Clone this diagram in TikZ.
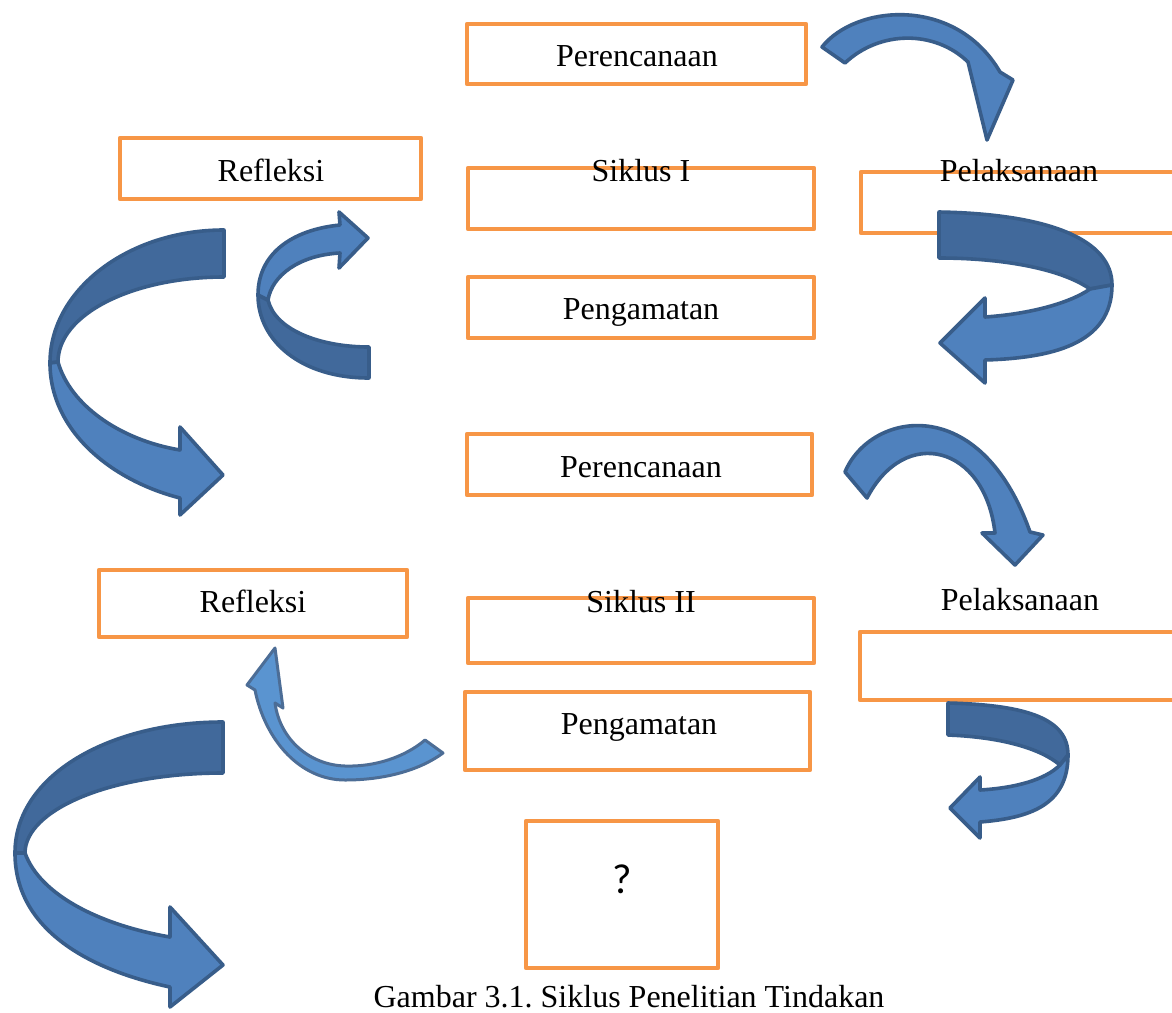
\documentclass[tikz,border=0pt]{standalone}
\usepackage{fontspec}
\setmainfont{Liberation Serif}
\newfontfamily\qfont{Carlito}
\frenchspacing
\definecolor{boxor}{HTML}{F79646}
\definecolor{arfront}{HTML}{4F81BD}
\definecolor{arback}{HTML}{41699B}
\definecolor{arline}{HTML}{385D8A}
\definecolor{arlight}{HTML}{5A94D0}
\tikzset{
  box/.style={draw=boxor, line width=4.5pt, line join=round},
  lbl/.style={anchor=base, inner sep=0pt, font=\fontsize{32}{38}\selectfont},
  front/.style={fill=arfront, draw=arline, line width=3.6pt, line join=round},
  back/.style={fill=arback, draw=arline, line width=3.6pt, line join=round},
  lfront/.style={fill=arlight, draw=arline!90, line width=3pt, line join=round}
}
\begin{document}
\begin{tikzpicture}[x=1pt, y=-1pt]
\clip (0,0) rectangle (1172,1012);
\fill[white] (0,0) rectangle (1172,1012);

% boxes
\draw[box] (467,24) rectangle (806,84);
\draw[box] (120,138) rectangle (421,199);
\draw[box] (468,168) rectangle (814,229);
\draw[box] (861,172) rectangle (1185,233);
\draw[box] (468,277) rectangle (814,338);
\draw[box] (467,434) rectangle (812,495);
\draw[box] (99,570) rectangle (407,637);
\draw[box] (468,598) rectangle (814,663);
\draw[box] (860,632) rectangle (1185,700);
\draw[box] (465,692) rectangle (810,770);
\draw[box] (526,821) rectangle (718,968);

% arrow A (top right)
\draw[front] (822,47) .. controls (855,5) and (955,-5) .. (1000,72) -- (1013,80) -- (987,140) -- (968,62)
  .. controls (935,30) and (880,30) .. (845,63) -- cycle;

% arrow B (right U-turn, cycle I)
\draw[back] (939,212) .. controls (1050,214) and (1112,240) .. (1112,285) -- (1090,289)
  .. controls (1060,268) and (1000,258) .. (939,258) -- cycle;
\draw[front] (1112,285) .. controls (1112,345) and (1050,358) .. (985,360) -- (985,383) -- (940,343) -- (985,298) -- (985,317)
  .. controls (1030,314) and (1070,303) .. (1090,289) -- cycle;

% arrow C (small C, cycle I)
\draw[back] (369,378) .. controls (300,378) and (258,340) .. (258,295) -- (268,300)
  .. controls (275,330) and (320,347) .. (369,347) -- cycle;
\draw[front] (258,295) .. controls (258,255) and (290,230) .. (340,225) -- (339,212) -- (368,238) -- (339,268) -- (340,253)
  .. controls (300,255) and (272,275) .. (268,300) -- cycle;

% arrow D (big C, cycle I)
\draw[back] (224,230) .. controls (128,230) and (50,290) .. (50,363) -- (58,362)
  .. controls (58,314) and (133,277) .. (224,277) -- cycle;
\draw[front] (50,363) .. controls (50,430) and (110,480) .. (180,498) -- (180,515) -- (223,475) -- (180,427) -- (180,450)
  .. controls (120,440) and (70,405) .. (58,362) -- cycle;

% arrow E (top right, cycle II)
\draw[front] (845,472) .. controls (870,412) and (980,390) .. (1030,532) -- (1043,535) -- (1015,565) -- (982,533) -- (995,533)
  .. controls (985,445) and (905,425) .. (867,498) -- cycle;

% arrow F (small, cycle II)
\draw[lfront] (275,648) -- (247,685) -- (255,690) .. controls (265,740) and (300,780) .. (345,780)
  .. controls (385,780) and (420,770) .. (443,753) -- (425,740)
  .. controls (405,757) and (375,767) .. (345,766)
  .. controls (310,765) and (280,740) .. (275,703) -- (283,708) -- cycle;

% arrow G (right U-turn, cycle II)
\draw[back] (948,703) .. controls (1030,705) and (1068,720) .. (1068,755) -- (1060,765)
  .. controls (1040,748) and (1000,737) .. (948,735) -- cycle;
\draw[front] (1068,755) .. controls (1068,805) and (1030,818) .. (980,822) -- (980,838) -- (950,808) -- (980,777) -- (980,790)
  .. controls (1015,788) and (1045,780) .. (1060,765) -- cycle;

% arrow H (big C, cycle II)
\draw[back] (223,722) .. controls (110,722) and (15,775) .. (15,853) -- (25,853)
  .. controls (25,810) and (110,773) .. (223,773) -- cycle;
\draw[front] (15,853) .. controls (15,930) and (90,970) .. (170,987) -- (170,1007) -- (223,965) -- (170,907) -- (170,937)
  .. controls (100,925) and (40,895) .. (25,853) -- cycle;

% labels
\node[lbl] (per1) at (637,66) {Perencanaan};
\node[lbl] (ref1) at (271,181) {Refleksi};
\node[lbl] (sik1) at (641,181) {Siklus I};
\node[lbl] (pel1) at (1019,181) {Pelaksanaan};
\node[lbl] (pen1) at (641,319) {Pengamatan};
\node[lbl] (per2) at (641,477) {Perencanaan};
\node[lbl] (ref2) at (253,612) {Refleksi};
\node[lbl] (sik2) at (641,612) {Siklus II};
\node[lbl] (pel2) at (1020,610) {Pelaksanaan};
\node[lbl] (pen2) at (639,734) {Pengamatan};
\node[anchor=base, inner sep=0pt, font=\qfont\fontsize{42}{50}\selectfont] (q) at (622,893) {?};
\node[lbl] (cap) at (629,1007) {Gambar 3.1. Siklus Penelitian Tindakan};
\end{tikzpicture}
\end{document}
